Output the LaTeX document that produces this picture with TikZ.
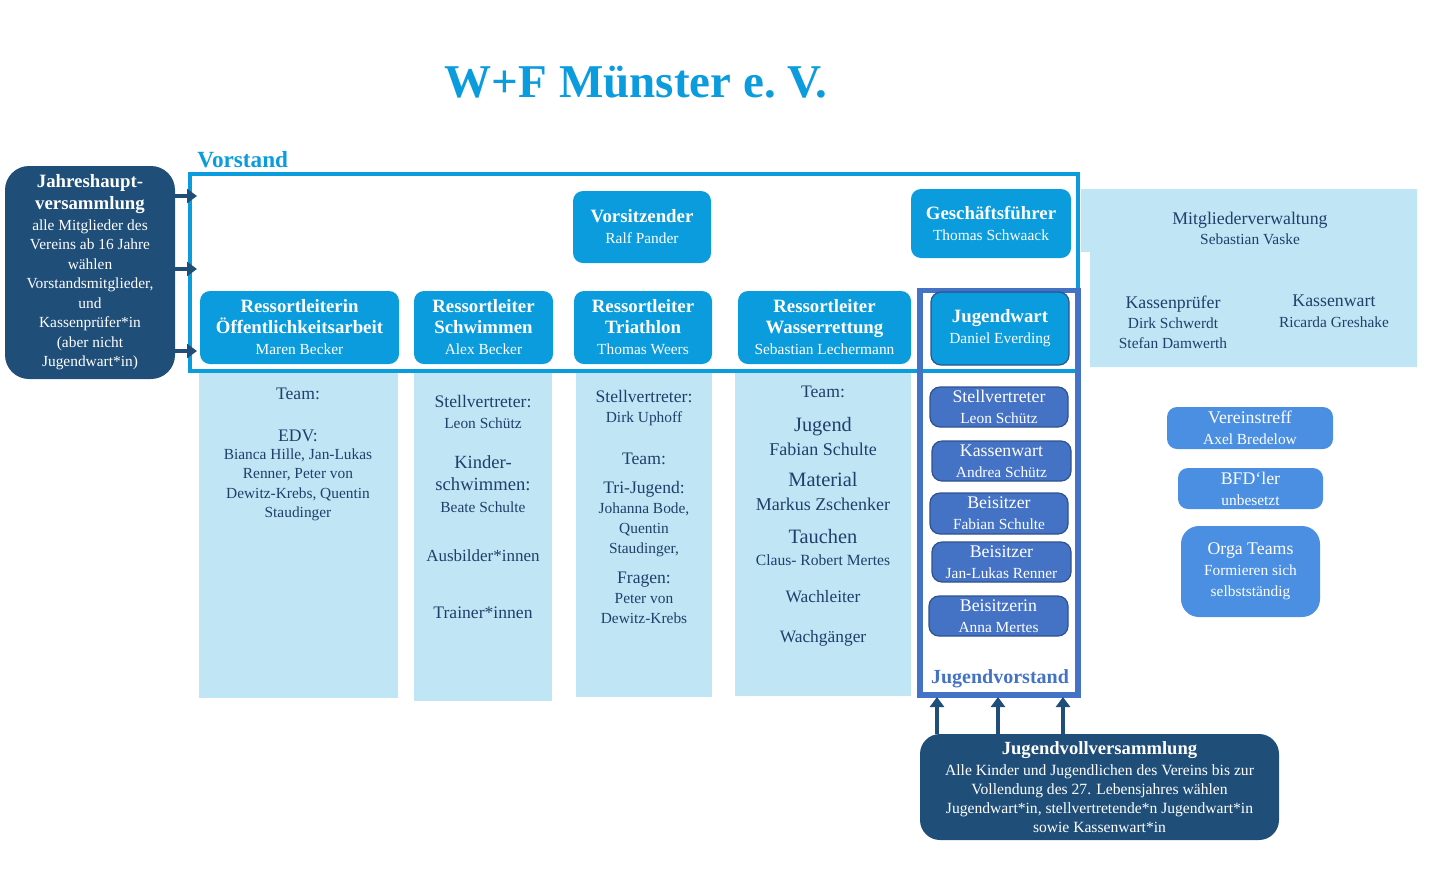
\documentclass[tikz,border=0pt]{standalone}
\usepackage{fontspec}
\setmainfont{Liberation Serif}
\usetikzlibrary{fit,arrows.meta}
\definecolor{wfcyan}{HTML}{0A9CDC}
\definecolor{wflight}{HTML}{C0E6F6}
\definecolor{wfnavy}{HTML}{1F4E79}
\definecolor{wftext}{HTML}{203F6A}
\definecolor{wfblue}{HTML}{4472C4}
\definecolor{wfblueD}{HTML}{2F528F}
\definecolor{wfmid}{HTML}{4A8FE2}
\newcommand\fsz[2]{\fontsize{#1}{#2}\selectfont}
\newcommand\wfname[1]{{\fsz{7.7}{10.5}#1}}
\newcommand\wfsmall[1]{{\fsz{7.7}{9.75}#1}}
\tikzset{
  wh/.style 2 args={minimum width=#1pt, minimum height=#2pt},
  cbox/.style={fill=wfcyan, rounded corners=5pt, inner sep=0pt, text=white, align=center, font=\fsz{9.4}{10.5}\bfseries},
  jbox/.style={fill=wfblue, draw=wfblueD, line width=0.6pt, rounded corners=5pt, inner sep=0pt, text=white, align=center, font=\fsz{8.9}{10.5}},
  rbox/.style={fill=wfmid, rounded corners=5pt, inner sep=0pt, text=white, align=center, font=\fsz{8.9}{10.5}},
  navybox/.style={fill=wfnavy, rounded corners=12pt, inner sep=0pt, text=white, align=center},
  colfill/.style={fill=wflight, inner sep=0pt},
  ctext/.style={text=wftext, align=center, inner sep=0pt},
  arr/.style={draw=wfnavy, line width=2pt, -{Triangle[width=7pt,length=5pt]}},
  frameline/.style={inner sep=0pt, fill=none}
}
\begin{document}
\begin{tikzpicture}[x=0.5pt,y=-0.5pt]
\useasboundingbox (0,0) rectangle (1436,869);

% title
\node[anchor=base, text=wfcyan, font=\fsz{23.5}{26}\bfseries, inner sep=0pt] (title) at (636,97) {W+F Münster e.\ V.};
\node[anchor=base west, text=wfcyan, font=\fsz{11.6}{13}\bfseries, inner sep=0pt] (vlabel) at (197,167) {Vorstand};

% light fills
\node[colfill, fit={(199,371)(398,698)}] (c1) {};
\node[colfill, fit={(414,371)(552,701)}] (c2) {};
\node[colfill, fit={(576,371)(712,697)}] (c3) {};
\node[colfill, fit={(735,371)(911,696)}] (c4) {};
\fill[wflight] (1081,189) -- (1417,189) -- (1417,367) -- (1090,367) -- (1090,252) -- (1081,252) -- cycle;

% frames
\node[frameline, draw=wfcyan, line width=2pt, fit={(190,174)(1078,370.5)}] (vframe) {};
\node[frameline, draw=wfblue, line width=2.6pt, fit={(920,290.5)(1078,695)}] (jvframe) {};

% Vorstand boxes
\node[cbox, wh={69}{36}] (vors) at (642,227) {Vorsitzender\\\mdseries\wfname{Ralf Pander}};
\node[cbox, wh={80}{34.5}] (gf) at (991,223.5) {Geschäftsführer\\\mdseries\wfname{Thomas Schwaack}};
\node[cbox, wh={99.5}{36.5}] (oa) at (299.5,327.5) {Ressortleiterin\\Öffentlichkeitsarbeit\\\mdseries\wfname{Maren Becker}};
\node[cbox, wh={69.5}{36.5}] (sw) at (483.5,327.5) {Ressortleiter\\Schwimmen\\\mdseries\wfname{Alex Becker}};
\node[cbox, wh={69}{36.5}] (tri) at (643,327.5) {Ressortleiter\\Triathlon\\\mdseries\wfname{Thomas Weers}};
\node[cbox, wh={86.5}{36.5}] (wr) at (824.5,327.5) {Ressortleiter\\Wasserrettung\\\mdseries\wfname{Sebastian Lechermann}};
\node[cbox, draw=wfblueD, line width=0.6pt, wh={69}{36.5}] (jw) at (1000,328.5) {Jugendwart\\\mdseries\wfname{Daniel Everding}};

% column 1 text
\node[ctext, font=\fsz{8.8}{10}] (t1a) at (298,394) {Team:};
\node[ctext, font=\fsz{8.8}{10}] (t1b) at (298,436) {EDV:};
\node[ctext, font=\fsz{7.7}{9.75}] (t1c) at (298,485) {Bianca Hille, Jan-Lukas\\Renner, Peter von\\Dewitz-Krebs, Quentin\\Staudinger};

% column 2 text
\node[ctext, font=\fsz{8.8}{10.5}] (t2a) at (483,411.5) {Stellvertreter:\\\wfname{Leon Schütz}};
\node[ctext, font=\fsz{9.3}{11}] (t2b) at (483,484.5) {Kinder-\\schwimmen:\\\wfname{Beate Schulte}};
\node[ctext, font=\fsz{8.5}{10}] (t2c) at (483,556) {Ausbilder*innen};
\node[ctext, font=\fsz{8.8}{10}] (t2d) at (483,613) {Trainer*innen};

% column 3 text
\node[ctext, font=\fsz{8.8}{10}] (t3a) at (644,408) {Stellvertreter:\\\wfname{Dirk Uphoff}};
\node[ctext, font=\fsz{8.8}{10}] (t3b) at (644,459) {Team:};
\node[ctext, font=\fsz{8.8}{10}] (t3c) at (644,519) {Tri-Jugend:\\\wfsmall{Johanna Bode,}\\\wfsmall{Quentin}\\\wfsmall{Staudinger,}};
\node[ctext, font=\fsz{8.8}{10}] (t3d) at (644,597.5) {Fragen:\\\wfsmall{Peter von}\\\wfsmall{Dewitz-Krebs}};

% column 4 text
\node[ctext, font=\fsz{8.8}{10}] (t4a) at (823,392) {Team:};
\node[ctext, font=\fsz{10.2}{12}] (t4b) at (823,436) {Jugend\\{\fsz{9}{12}Fabian Schulte}};
\node[ctext, font=\fsz{10.2}{12}] (t4c) at (823,492) {Material\\{\fsz{9}{12}Markus Zschenker}};
\node[ctext, font=\fsz{10.2}{11}] (t4d) at (823,547) {Tauchen\\{\fsz{7.8}{11}Claus- Robert Mertes}};
\node[ctext, font=\fsz{8.7}{10}] (t4e) at (823,597) {Wachleiter};
\node[ctext, font=\fsz{8.7}{10}] (t4f) at (823,638) {Wachgänger};

% right area
\node[ctext, font=\fsz{8.9}{10}] (mv) at (1250,228) {Mitgliederverwaltung\\\wfname{Sebastian Vaske}};
\node[ctext, font=\fsz{8.9}{10}] (kp) at (1173,322) {Kassenprüfer\\\wfsmall{Dirk Schwerdt}\\\wfsmall{Stefan Damwerth}};
\node[ctext, font=\fsz{8.9}{10.5}] (kw) at (1334,311.5) {Kassenwart\\\wfname{Ricarda Greshake}};

% Jugendvorstand boxes
\node[jbox, wh={69}{20}] (jst) at (999,407) {Stellvertreter\\\wfname{Leon Schütz}};
\node[jbox, wh={69.5}{20}] (jkw) at (1001.5,461) {Kassenwart\\\wfname{Andrea Schütz}};
\node[jbox, wh={69}{20.5}] (jb1) at (999,513.5) {Beisitzer\\\wfname{Fabian Schulte}};
\node[jbox, wh={69.5}{20}] (jb2) at (1001.5,562) {Beisitzer\\\wfname{Jan-Lukas Renner}};
\node[jbox, wh={69.5}{20}] (jb3) at (998.5,616) {Beisitzerin\\\wfname{Anna Mertes}};
\node[text=wfblue, font=\fsz{10}{12}\bfseries, inner sep=0pt] (jvlabel) at (1000,679) {Jugendvorstand};

% right boxes
\node[rbox, wh={83}{21}] (vt) at (1250,428) {Vereinstreff\\\wfname{Axel Bredelow}};
\node[rbox, wh={72.5}{20.5}] (bfd) at (1250.5,488.5) {BFD‘ler\\\wfname{unbesetzt}};
\node[rbox, rounded corners=9pt, wh={69.5}{45.5}] (orga) at (1250.5,571.5) {Orga Teams\\\wfsmall{Formieren sich}\\\wfsmall{selbstständig}};

% assemblies
\node[navybox, font=\fsz{7.7}{9.75}, wh={85}{106.5}] (jhv) at (90,272.5) {{\bfseries\fsz{9.4}{9.75}Jahreshaupt-}\\[1.2pt]{\bfseries\fsz{9.4}{9.75}versammlung}\\[0.6pt]alle Mitglieder des\\Vereins ab 16 Jahre\\wählen\\Vorstandsmitglieder,\\und\\Kassenprüfer*in\\(aber nicht\\Jugendwart*in)};
\node[navybox, rounded corners=10pt, font=\fsz{7.8}{9.5}, wh={179.5}{53}] (jvv) at (1099.5,787) {{\bfseries\fsz{9.3}{9.5}Jugendvollversammlung}\\[1pt]Alle Kinder und Jugendlichen des Vereins bis zur\\Vollendung des 27. Lebensjahres wählen\\Jugendwart*in, stellvertretende*n Jugendwart*in\\sowie Kassenwart*in};

% arrows
\coordinate (a1) at (197,196);
\coordinate (a2) at (197,269);
\coordinate (a3) at (197,351);
\draw[arr] (jhv.east |- a1) -- (a1);
\draw[arr] (jhv.east |- a2) -- (a2);
\draw[arr] (jhv.east |- a3) -- (a3);
\coordinate (b1) at (937,697);
\coordinate (b2) at (998,697);
\coordinate (b3) at (1063,697);
\draw[arr] (jvv.north -| b1) -- (b1);
\draw[arr] (jvv.north -| b2) -- (b2);
\draw[arr] (jvv.north -| b3) -- (b3);
\end{tikzpicture}
\end{document}
